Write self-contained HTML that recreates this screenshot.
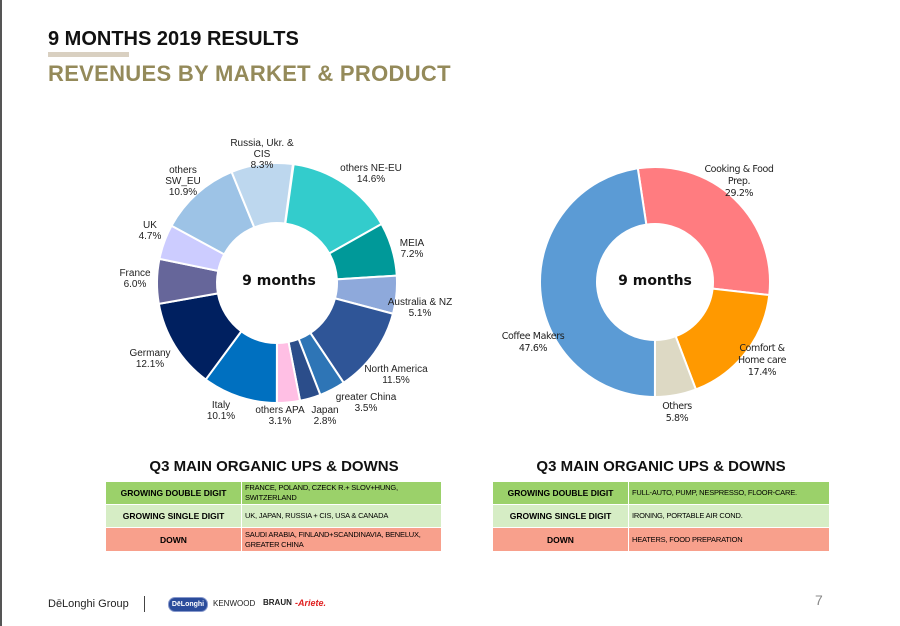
<!DOCTYPE html>
<html><head><meta charset="utf-8"><style>
body{margin:0;width:900px;height:626px;background:#fff;position:relative;overflow:hidden;font-family:"Liberation Sans",sans-serif}
.a{position:absolute}
table{position:absolute;border-collapse:collapse;font-size:7.5px;font-family:"Liberation Sans",sans-serif;table-layout:fixed}
td{border:1px solid #fff;padding:0 3px;line-height:10px;letter-spacing:-0.2px;white-space:nowrap;overflow:hidden}
td.h{font-weight:bold;text-align:center;font-size:8.5px;letter-spacing:0}
.g1{background:#9BD16A}.g2{background:#D6EDC5}.dn{background:#F8A08C}
</style></head><body>
<div class="a" style="left:0;top:0;width:2px;height:626px;background:#555"></div>
<div class="a" style="left:48px;top:28px;font-size:20px;font-weight:bold;color:#111">9 MONTHS 2019 RESULTS</div>
<div class="a" style="left:48px;top:52px;width:81px;height:5px;background:#D9D0C1"></div>
<div class="a" style="left:48px;top:61px;font-size:22px;font-weight:bold;color:#948A5A;letter-spacing:0.3px">REVENUES BY MARKET &amp; PRODUCT</div>
<svg class="a" style="left:0;top:0" width="900" height="460" id="s"></svg>
<div class="a" style="left:106px;top:458px;width:336px;text-align:center;font-size:15px;font-weight:bold;color:#111">Q3 MAIN ORGANIC UPS &amp; DOWNS</div>
<div class="a" style="left:492px;top:458px;width:338px;text-align:center;font-size:15px;font-weight:bold;color:#111">Q3 MAIN ORGANIC UPS &amp; DOWNS</div>
<table style="left:105px;top:481px;width:337px">
<col style="width:136px"><col>
<tr class="g1" style="height:23px"><td class="h">GROWING DOUBLE DIGIT</td><td>FRANCE, POLAND, CZECK R.+ SLOV+HUNG,<br>SWITZERLAND</td></tr>
<tr class="g2" style="height:23px"><td class="h">GROWING SINGLE DIGIT</td><td>UK, JAPAN, RUSSIA + CIS, USA &amp; CANADA</td></tr>
<tr class="dn" style="height:24px"><td class="h">DOWN</td><td>SAUDI ARABIA, FINLAND+SCANDINAVIA, BENELUX,<br>GREATER CHINA</td></tr>
</table>
<table style="left:492px;top:481px;width:338px">
<col style="width:136px"><col>
<tr class="g1" style="height:23px"><td class="h">GROWING DOUBLE DIGIT</td><td>FULL-AUTO, PUMP, NESPRESSO, FLOOR-CARE.</td></tr>
<tr class="g2" style="height:23px"><td class="h">GROWING SINGLE DIGIT</td><td>IRONING, PORTABLE AIR COND.</td></tr>
<tr class="dn" style="height:24px"><td class="h">DOWN</td><td>HEATERS, FOOD PREPARATION</td></tr>
</table>
<div class="a" style="left:48px;top:598px;font-size:11px;color:#222">DēLonghi Group</div>
<div class="a" style="left:144px;top:596px;width:1px;height:16px;background:#444"></div>
<div class="a" style="left:168px;top:597px;width:38px;height:13px;border-radius:7px;background:#2B4C9B;border:1px solid #8899cc;color:#fff;font-size:7px;font-weight:bold;text-align:center;line-height:13px">DēLonghi</div>
<div class="a" style="left:213px;top:599px;font-size:8px;color:#222">KENWOOD</div>
<div class="a" style="left:263px;top:598px;font-size:8px;font-weight:bold;color:#222">BRAUN</div>
<div class="a" style="left:295px;top:598px;font-size:9px;font-style:italic;font-weight:bold;color:#E02020">-Ariete.</div>
<div class="a" style="left:815px;top:592px;font-size:14px;color:#888">7</div>
<script>
var s=document.getElementById('s'),NS='http://www.w3.org/2000/svg';
function el(t,a,txt){var e=document.createElementNS(NS,t);for(var k in a)e.setAttribute(k,a[k]);if(txt)e.textContent=txt;s.appendChild(e);return e;}
function donut(cx,cy,R,r,start,data){var a=start;data.forEach(function(d){var b=a+d[0]*3.6;var p=function(ang,rad){var t=(ang-90)*Math.PI/180;return [cx+rad*Math.cos(t),cy+rad*Math.sin(t)];};
var L=(b-a)>180?1:0,p1=p(a,R),p2=p(b,R),p3=p(b,r),p4=p(a,r);
el('path',{d:'M'+p1+'A'+R+','+R+' 0 '+L+' 1 '+p2+'L'+p3+'A'+r+','+r+' 0 '+L+' 0 '+p4+'Z',fill:d[1],stroke:'#fff','stroke-width':2});a=b;});}
donut(277,283,120,60,8,[[14.6,'#33CCCC'],[7.2,'#009999'],[5.1,'#8EA9DB'],[11.5,'#2F5597'],[3.5,'#2E75B6'],[2.8,'#2B4D8A'],[3.1,'#FFBFE4'],[10.1,'#0070C0'],[12.1,'#002060'],[6.0,'#66669A'],[4.7,'#CCCCFF'],[10.9,'#9DC3E6'],[8.3,'#BDD7EE']]);
donut(655,282,115,58,-8.6,[[29.2,'#FF7C80'],[17.4,'#FF9900'],[5.8,'#DDD9C4'],[47.6,'#5B9BD5']]);
var L1=[[262,146,'Russia, Ukr. &'],[262,157,'CIS'],[262,168,'8.3%'],[183,173,'others'],[183,184,'SW_EU'],[183,195,'10.9%'],[150,228,'UK'],[150,239,'4.7%'],[135,276,'France'],[135,287,'6.0%'],[371,171,'others NE-EU'],[371,182,'14.6%'],[412,246,'MEIA'],[412,257,'7.2%'],[420,305,'Australia & NZ'],[420,316,'5.1%'],[396,372,'North America'],[396,383,'11.5%'],[366,400,'greater China'],[366,411,'3.5%'],[150,356,'Germany'],[150,367,'12.1%'],[221,408,'Italy'],[221,419,'10.1%'],[280,413,'others APA'],[280,424,'3.1%'],[325,413,'Japan'],[325,424,'2.8%']];
L1.forEach(function(t){el('text',{x:t[0],y:t[1],'text-anchor':'middle','font-size':'10','font-family':'Liberation Sans, sans-serif',fill:'#222'},t[2]);});
var L2=[[739,172,'Cooking & Food'],[739,184,'Prep.'],[739,196,'29.2%'],[533,339,'Coffee Makers'],[533,351,'47.6%'],[762,351,'Comfort &'],[762,363,'Home care'],[762,375,'17.4%'],[677,409,'Others'],[677,421,'5.8%']];
L2.forEach(function(t){el('text',{x:t[0],y:t[1],'text-anchor':'middle','font-size':'9.5','font-family':'DejaVu Sans, sans-serif','letter-spacing':'-0.4',fill:'#222'},t[2]);});
el('text',{x:279,y:285,'text-anchor':'middle','font-size':'14','font-weight':'bold','font-family':'DejaVu Sans, sans-serif',fill:'#111'},'9 months');
el('text',{x:655,y:285,'text-anchor':'middle','font-size':'14','font-weight':'bold','font-family':'DejaVu Sans, sans-serif',fill:'#111'},'9 months');
</script>
</body></html>
